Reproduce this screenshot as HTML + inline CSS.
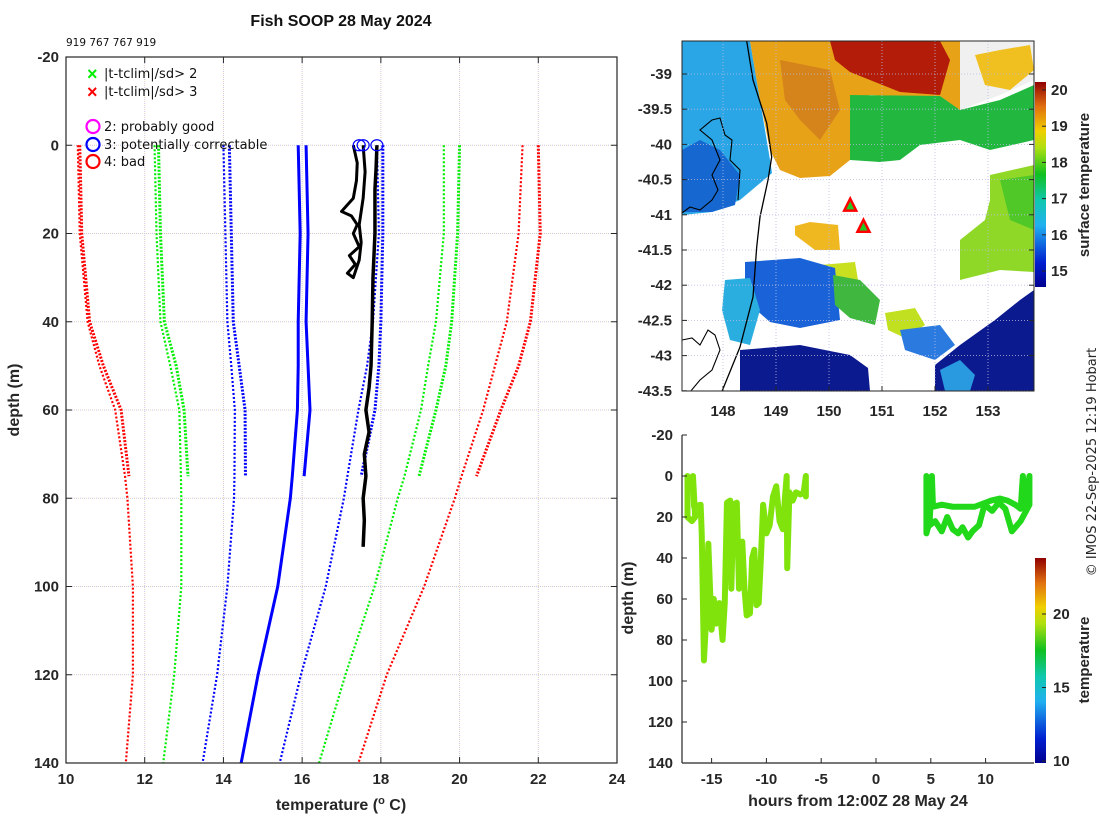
<!DOCTYPE html>
<html><head><meta charset="utf-8"><style>
html,body{margin:0;padding:0;background:#fff;}
svg{display:block;font-family:"Liberation Sans","DejaVu Sans",sans-serif;}
.tk{font-size:15px;font-weight:bold;fill:#262626;}
.lb{font-size:16px;font-weight:bold;fill:#262626;}
.lgt{font-family:"DejaVu Sans",sans-serif;font-size:13px;fill:#111;}
</style></head><body>
<svg id="c" width="1100" height="820" viewBox="0 0 1100 820" xmlns="http://www.w3.org/2000/svg">
<text x="341" y="26" text-anchor="middle" style="font-size:16px;font-weight:bold;fill:#111">Fish SOOP 28 May 2024</text>
<text x="66" y="46" style="font-family:'DejaVu Sans',sans-serif;font-size:10.5px;fill:#111">919 767 767 919</text>
<g id="left"></g>
<g id="map"></g>
<g id="br"></g>
<text transform="translate(1096,462) rotate(-90)" text-anchor="middle" style="font-family:'DejaVu Sans',sans-serif;font-size:13px;fill:#262626">© IMOS 22-Sep-2025 12:19 Hobart</text>
</svg>
<script>
// ---------- profile data ----------
const depthsA = [0,20,40,50,60,75];
const redLA   = [10.35,10.4,10.6,10.95,11.4,11.6];
const greenLA = [12.35,12.4,12.5,12.8,13.0,13.1];
const blueLA  = [14.15,14.2,14.25,14.4,14.55,14.56];
const meanA   = [16.1,16.15,16.1,16.15,16.2,16.05];
const blueRA  = [18.05,18.05,18.0,17.95,17.85,17.5];
const greenRA = [20.0,19.95,19.8,19.65,19.4,18.97];
const redRA   = [22.0,22.05,21.8,21.5,21.05,20.43];
const depthsB = [0,20,40,50,60,75,80,100,120,140];
const redLB   = [10.3,10.35,10.55,10.85,11.25,11.5,11.56,11.7,11.7,11.52];
const greenLB = [12.25,12.3,12.4,12.65,12.88,12.92,12.93,12.93,12.75,12.47];
const blueLB  = [14.0,14.05,14.1,14.2,14.29,14.28,14.27,14.1,13.84,13.47];
const meanB   = [15.9,15.95,15.9,15.9,15.88,15.75,15.7,15.38,14.88,14.45];
const blueRB  = [17.9,17.95,17.8,17.65,17.43,17.15,17.06,16.6,15.97,15.43];
const greenRB = [19.6,19.6,19.4,19.2,19.02,18.6,18.43,17.84,17.1,16.43];
const redRB   = [21.6,21.5,21.2,20.9,20.6,20.05,19.88,19.1,18.15,17.43];
const obsDepth1 = [0,5,10,20,30,40,50,55,60,65,70,75,80,85,91];
const obsTemp1  = [17.9,17.88,17.85,17.85,17.8,17.78,17.75,17.7,17.62,17.7,17.58,17.62,17.55,17.58,17.55];
const obsDepth2 = [0,4,8,12,15,16,18,20,23,25,27,29,30,26,22,18,12,6,0];
const obsTemp2  = [17.3,17.4,17.38,17.3,17.0,17.25,17.4,17.3,17.45,17.2,17.35,17.15,17.3,17.45,17.5,17.45,17.55,17.6,17.55];
const flagTemps = [17.45,17.55,17.9];
const xTicks = [10,12,14,16,18,20,22,24];
const yTicks = [-20,0,20,40,60,80,100,120,140];

// ---------- depth-time data ----------
const track1T = [-17.2,-17.2,-16.8,-16.5,-16.7,-16.6,-16.0,-15.9,-15.7,-15.5,-15.3,-15.0,-14.8,-14.6,-14.3,-14.0,-13.8,-13.6,-13.3,-13.2,-13.0,-12.7,-12.5,-12.2,-12.0,-11.8,-11.5,-11.3,-11.1,-10.9,-10.7,-10.5,-10.3,-10.0,-9.7,-9.4,-9.1,-8.8,-8.5,-8.3,-8.15,-8.1,-7.9,-7.6,-7.3,-6.9,-6.6,-6.4,-6.4];
const track1D = [0,20,22,20,0,15,14,28,90,70,33,75,60,72,62,80,62,13,12,55,14,13,55,32,55,68,67,40,36,63,62,40,14,28,24,10,5,22,26,10,0,45,8,12,8,9,8,0,10];
const track2T = [4.6,4.6,4.9,5.1,5.2,6,7,8,9,10,10.5,11.3,12,12.7,13.2,13.4,13.6,14.0,14.0,13.2,12.4,11.8,11.2,10.6,9.9,9.4,8.8,8.4,7.9,7.5,7.0,6.5,6.0,5.4,4.9];
const track2D = [0,28,22,0,15,14,15,15,15,13,12,11,12,14,16,0,15,0,14,22,27,16,13,17,14,24,27,30,25,28,26,20,27,22,24];
const hTicks = [-15,-10,-5,0,5,10];
const cbTicks = [10,15,20];
const mapCbTicks = [15,16,17,18,19,20];
const latTicks = [-39,-39.5,-40,-40.5,-41,-41.5,-42,-42.5,-43,-43.5];
const lonTicks = [148,149,150,151,152,153];
const shipLon = [150.4,150.65];
const shipLat = [-40.87,-41.17];

const NS='http://www.w3.org/2000/svg';
function mk(parent,tag,attrs,text){const e=document.createElementNS(NS,tag);for(const k in attrs)e.setAttribute(k,attrs[k]);if(text!==undefined)e.textContent=text;parent.appendChild(e);return e;}

// ===== left plot =====
const L=document.getElementById('left');
const X0=66,X1=617,Y0=57,Y1=763;
const sx=t=>X0+(t-10)/(24-10)*(X1-X0);
const sy=d=>Y0+(d+20)/160*(Y1-Y0);
xTicks.forEach(t=>{
 const g=mk(L,'line',{x1:sx(t),x2:sx(t),y1:Y0,y2:Y1,stroke:'#e8c8b0','stroke-dasharray':'1 3','stroke-width':1});
 
 
 mk(L,'line',{x1:sx(t),x2:sx(t),y1:Y0,y2:Y1,stroke:'#c0c8ec','stroke-dasharray':'1 3','stroke-dashoffset':2,'stroke-width':1});
 mk(L,'line',{x1:sx(t),x2:sx(t),y1:Y1,y2:Y1-6,stroke:'#262626'});
 mk(L,'line',{x1:sx(t),x2:sx(t),y1:Y0,y2:Y0+6,stroke:'#262626'});
 const tx=mk(L,'text',{x:sx(t),y:Y1+21,'text-anchor':'middle',class:'tk'},String(t));
 
 
});
yTicks.forEach(d=>{
 mk(L,'line',{x1:X0,x2:X1,y1:sy(d),y2:sy(d),stroke:'#e8c8b0','stroke-dasharray':'1 3','stroke-width':1});
 mk(L,'line',{x1:X0,x2:X1,y1:sy(d),y2:sy(d),stroke:'#c0c8ec','stroke-dasharray':'1 3','stroke-dashoffset':2,'stroke-width':1});
 mk(L,'line',{x1:X0,x2:X0+6,y1:sy(d),y2:sy(d),stroke:'#262626'});
 mk(L,'line',{x1:X1,x2:X1-6,y1:sy(d),y2:sy(d),stroke:'#262626'});
 const tx=mk(L,'text',{x:X0-7,y:sy(d)+5,'text-anchor':'end',class:'tk'},String(d));
 
 
});
function prof(ds,ts,color,dash,w,name){
 const p=mk(L,'polyline',{points:ds.map((d,i)=>sx(ts[i])+','+sy(d)).join(' '),fill:'none',stroke:color,'stroke-width':w,'stroke-dasharray':dash,'stroke-linejoin':'round'});
 
 
}
prof(depthsB,redLB,'#f00','2 2',2.2,'clim-b-minus3sd');
prof(depthsB,greenLB,'#0e0','2 2',2.2,'clim-b-minus2sd');
prof(depthsB,blueLB,'#00f','2 2',2.2,'clim-b-minus1sd');
prof(depthsB,meanB,'#00f','',3,'clim-b-mean');
prof(depthsB,blueRB,'#00f','2 2',2.2,'clim-b-plus1sd');
prof(depthsB,greenRB,'#0e0','2 2',2.2,'clim-b-plus2sd');
prof(depthsB,redRB,'#f00','2 2',2.2,'clim-b-plus3sd');
prof(depthsA,redLA,'#f00','2 1.5',3,'clim-a-minus3sd');
prof(depthsA,greenLA,'#0e0','2 1.5',3,'clim-a-minus2sd');
prof(depthsA,blueLA,'#00f','2 1.5',3,'clim-a-minus1sd');
prof(depthsA,meanA,'#00f','',3,'clim-a-mean');
prof(depthsA,blueRA,'#00f','2 1.5',3,'clim-a-plus1sd');
prof(depthsA,greenRA,'#0e0','2 1.5',3,'clim-a-plus2sd');
prof(depthsA,redRA,'#f00','2 1.5',3,'clim-a-plus3sd');
prof(obsDepth1,obsTemp1,'#000','',3.5,'observed-profile-main');
prof(obsDepth2,obsTemp2,'#000','',3,'observed-profile-shallow');
flagTemps.forEach(t=>{
 const c=mk(L,'ellipse',{cx:sx(t),cy:sy(0),rx:6,ry:5.5,fill:'none',stroke:'#00f','stroke-width':1.2});
 
 
});
mk(L,'rect',{x:X0,y:Y0,width:X1-X0,height:Y1-Y0,fill:'none',stroke:'#262626','stroke-width':1.2});
// legend
const lg=mk(L,'g',{});


mk(lg,'text',{x:87,y:80,style:'font-size:18px;font-weight:bold;fill:#0e0'},'×');
mk(lg,'text',{x:104,y:78,class:'lgt'},'|t-tclim|/sd> 2');
mk(lg,'text',{x:87,y:98,style:'font-size:18px;font-weight:bold;fill:#f00'},'×');
mk(lg,'text',{x:104,y:96,class:'lgt'},'|t-tclim|/sd> 3');
[['#f0f','2: probably good',127],['#00f','3: potentially correctable',145],['#f00','4: bad',162]].forEach(a=>{
 mk(lg,'circle',{cx:93,cy:a[2]-0.5,r:6.5,fill:'none',stroke:a[0],'stroke-width':2.2});
 const t=mk(lg,'text',{x:104,y:a[2]+4,class:'lgt'},a[1]);
 
 
});
mk(L,'text',{transform:'translate(19,400) rotate(-90)','text-anchor':'middle',class:'lb'},'depth (m)');
const xt=mk(L,'text',{x:341,y:810,'text-anchor':'middle',class:'lb'});

xt.innerHTML='temperature (<tspan dy="-6" style="font-size:11px">o</tspan><tspan dy="6"> C)</tspan>';

// ===== map =====
const M=document.getElementById('map');
const MX0=682,MX1=1034,MY0=41,MY1=391;
const lx=lo=>723+(lo-148)*53;
const ly=la=>74+(-39-la)*70.4;
const clip=mk(M,'clipPath',{id:'mc'});mk(clip,'rect',{x:MX0,y:MY0,width:MX1-MX0,height:MY1-MY0});
const MG=mk(M,'g',{'clip-path':'url(#mc)'});
function poly(pts,fill,name){const p=mk(MG,'polygon',{points:pts,fill:fill});}
poly('682,41 750,41 760,100 770,160 772,173 740,200 712,212 682,215','#2aa6e6','sst-cyan-west');
poly('682,150 700,140 720,150 740,175 735,205 712,212 682,212','#1668d0','sst-blue-west');
poly('750,41 1034,41 1034,60 960,110 940,100 870,95 850,110 850,160 830,176 800,178 780,170 770,150 760,100','#e8a218','sst-orange-north');
poly('830,41 940,41 950,60 940,95 900,92 870,80 850,72 835,60','#b21c08','sst-darkred-north');
poly('780,60 830,70 840,110 820,140 800,120 785,100','#d4841a','sst-orange-inner');
poly('850,95 940,96 960,110 1000,100 1034,85 1034,140 990,150 960,140 920,145 900,160 880,162 850,160','#22b840','sst-green-band');
poly('960,41 1034,41 1034,80 1000,95 960,110','#f0f0f0','cloud-ne');
poly('975,55 1000,50 1030,45 1034,70 1010,90 985,85','#f0c020','sst-yellow-ne');
poly('990,175 1034,165 1034,272 1000,270 960,280 960,240 985,220 990,200','#90d828','sst-lime-east');
poly('1000,180 1034,175 1034,230 1010,220','#50c828','sst-green-east');
poly('795,226 810,222 838,225 840,250 815,250 795,235','#f0b820','sst-yellow-patch');
poly('820,265 855,262 858,280 835,283','#c8e020','sst-lime-mid');
poly('745,262 800,258 835,268 840,320 800,328 770,322 745,300','#1a62d8','sst-blue-south');
poly('725,280 750,278 760,310 750,345 730,340 722,310','#2aaee0','sst-cyan-south');
poly('833,275 860,280 880,300 875,325 850,318 835,305','#40b840','sst-green-south');
poly('885,313 915,308 925,325 905,338 888,330','#c0e020','sst-lime-south');
poly('740,350 800,345 850,355 868,368 870,391 740,391','#0c1a90','sst-navy-south');
poly('1034,290 1034,391 935,391 935,365 960,345 995,320 1020,300','#0c1a90','sst-navy-southeast');
poly('940,370 960,360 975,375 970,391 945,391','#2a9ae0','sst-cyan-southeast');
poly('900,330 940,325 955,345 935,360 905,350','#2a7ae0','sst-blue-southeast');
// coastline
const coast=mk(MG,'polyline',{points:'746.7,41 753,80 766.7,123 771.7,157 768,180 760,217 756.7,247 753,297 740,347 721.7,392',fill:'none',stroke:'#000','stroke-width':1.3});


mk(MG,'polyline',{points:'682,213 690,207 700,210 712,200 718,190 712,175 720,160 712,140 700,130 712,120 720,118 725,135 732,140 730,160 740,170 738,200',fill:'none',stroke:'#000','stroke-width':1.1});
mk(MG,'polyline',{points:'682,340 692,338 700,345 708,330 715,335 720,350 712,370 700,380 690,392',fill:'none',stroke:'#000','stroke-width':1.1});
// grid
lonTicks.forEach(lo=>{mk(MG,'line',{x1:lx(lo),x2:lx(lo),y1:MY0,y2:MY1,stroke:'#b8bce0','stroke-dasharray':'1 2','stroke-width':0.8});});
latTicks.forEach(la=>{mk(MG,'line',{x1:MX0,x2:MX1,y1:ly(la),y2:ly(la),stroke:'#b8bce0','stroke-dasharray':'1 2','stroke-width':0.8});});
shipLon.forEach((lo,i)=>{
 const x=lx(lo),y=ly(shipLat[i]);
 const t=mk(MG,'polygon',{points:`${x},${y-7} ${x-6},${y+5} ${x+6},${y+5}`,fill:'#2c2',stroke:'#f00','stroke-width':2.5});
 
 
});
mk(M,'rect',{x:MX0,y:MY0,width:MX1-MX0,height:MY1-MY0,fill:'none',stroke:'#262626','stroke-width':1});
latTicks.forEach(la=>{
 mk(M,'line',{x1:MX0,x2:MX0+5,y1:ly(la),y2:ly(la),stroke:'#262626'});
 mk(M,'line',{x1:MX1,x2:MX1-5,y1:ly(la),y2:ly(la),stroke:'#262626'});
 const t=mk(M,'text',{x:MX0-10,y:ly(la)+5,'text-anchor':'end',class:'tk'},String(la));
 
 
});
lonTicks.forEach(lo=>{
 mk(M,'line',{x1:lx(lo),x2:lx(lo),y1:MY1,y2:MY1-5,stroke:'#262626'});
 const t=mk(M,'text',{x:lx(lo),y:MY1+25,'text-anchor':'middle',class:'tk'},String(lo));
 
 
});
// jet gradient
function jetStops(id,parent){
 const g=mk(parent,'linearGradient',{id:id,x1:0,y1:1,x2:0,y2:0});
 [['0','#00008f'],['0.12','#0020d0'],['0.3','#20b0f0'],['0.42','#10c8b0'],['0.55','#10c020'],['0.68','#b0e010'],['0.76','#f0d000'],['0.88','#e07010'],['1','#900000']].forEach(s=>mk(g,'stop',{offset:s[0],'stop-color':s[1]}));
}
jetStops('jet1',M);
const mcbY0=82,mcbY1=287;
const mcb=v=>271-(v-15)*36.2;
const cb1=mk(M,'rect',{x:1035,y:mcbY0,width:11,height:mcbY1-mcbY0,fill:'url(#jet1)'});


mapCbTicks.forEach(v=>{
 mk(M,'line',{x1:1046,x2:1042,y1:mcb(v),y2:mcb(v),stroke:'#262626'});
 mk(M,'text',{x:1051,y:mcb(v)+5,class:'tk'},String(v));
});
mk(M,'text',{transform:'translate(1089,185) rotate(-90)','text-anchor':'middle',class:'lb',style:'font-size:15px'},'surface temperature');

// ===== bottom right =====
const B=document.getElementById('br');
const BX0=682,BX1=1034,BY0=435,BY1=763;
const bx=h=>876+h*10.96;
const by=d=>BY0+(d+20)/160*(BY1-BY0);
function track(T,D,color,name){
 const p=mk(B,'polyline',{points:T.map((t,i)=>bx(t)+','+by(D[i])).join(' '),fill:'none',stroke:color,'stroke-width':6,'stroke-linejoin':'round','stroke-linecap':'round'});
 
 
}
track(track1T,track1D,'#80e40c','dive-track-1');
track(track2T,track2D,'#22d81a','dive-track-2');
mk(B,'line',{x1:BX0,x2:BX0,y1:BY0,y2:BY1,stroke:'#262626','stroke-width':1.2});
mk(B,'line',{x1:BX0,x2:BX1,y1:BY1,y2:BY1,stroke:'#262626','stroke-width':1.2});
yTicks.forEach(d=>{
 mk(B,'line',{x1:BX0,x2:BX0+5,y1:by(d),y2:by(d),stroke:'#262626'});
 const t=mk(B,'text',{x:BX0-9,y:by(d)+5,'text-anchor':'end',class:'tk'},String(d));
 
 
});
hTicks.forEach(h=>{
 mk(B,'line',{x1:bx(h),x2:bx(h),y1:BY1,y2:BY1-5,stroke:'#262626'});
 const t=mk(B,'text',{x:bx(h),y:BY1+21,'text-anchor':'middle',class:'tk'},String(h));
 
 
});
jetStops('jet2',B);
const cb=v=>761-(v-10)*14.7;
const cb2=mk(B,'rect',{x:1035,y:558,width:11,height:205,fill:'url(#jet2)'});


cbTicks.forEach(v=>{
 mk(B,'line',{x1:1046,x2:1042,y1:cb(v),y2:cb(v),stroke:'#262626'});
 mk(B,'text',{x:1053,y:cb(v)+5,class:'tk'},String(v));
});
mk(B,'text',{transform:'translate(1089,660) rotate(-90)','text-anchor':'middle',class:'lb',style:'font-size:15px'},'temperature');
mk(B,'text',{transform:'translate(633,598) rotate(-90)','text-anchor':'middle',class:'lb'},'depth (m)');
mk(B,'text',{x:858,y:806,'text-anchor':'middle',class:'lb'},'hours from 12:00Z 28 May 24');
</script>
</body></html>
